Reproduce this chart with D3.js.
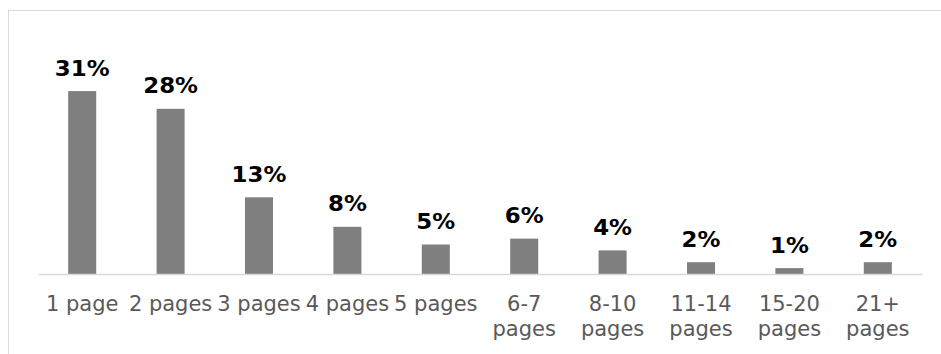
<!DOCTYPE html>
<html>
<head>
<meta charset="utf-8">
<script src="https://cdn.jsdelivr.net/npm/d3@7"></script>
<style>
  html, body { margin: 0; padding: 0; background: #fff; }
  svg { display: block; }
</style>
</head>
<body>
<svg id="chart" width="941" height="354"></svg>
<script>
// Share of documents by length
const categories = ["1 page", "2 pages", "3 pages", "4 pages", "5 pages",
                    "6-7 pages", "8-10 pages", "11-14 pages", "15-20 pages", "21+ pages"];
const shares = [31, 28, 13, 8, 5, 6, 4, 2, 1, 2];

const W = 941, H = 354;
const svg = d3.select("#chart");
const FONT = "Verdana, 'DejaVu Sans', sans-serif";

// chart frame
svg.append("rect")
  .attr("x", 8.5).attr("y", 10.5)
  .attr("width", W).attr("height", H)
  .attr("fill", "#fff").attr("stroke", "#d9d9d9").attr("stroke-width", 1);

const baseY = 274;
const x = d3.scaleBand()
  .domain(categories)
  .range([38, 922])
  .paddingInner(0.683)
  .paddingOuter(0.3415);

const y = d3.scaleLinear()
  .domain([0, 35])
  .range([baseY, baseY - 35 * 5.9]);

// bars
svg.append("g").selectAll("rect")
  .data(categories)
  .join("rect")
  .attr("x", d => x(d))
  .attr("y", (d, i) => y(shares[i]))
  .attr("width", x.bandwidth())
  .attr("height", (d, i) => y(0) - y(shares[i]))
  .attr("fill", "#7f7f7f");

// category axis
const axis = svg.append("g")
  .attr("transform", `translate(0,${baseY})`)
  .call(d3.axisBottom(x).tickSize(0).tickPadding(0));
axis.select(".domain").attr("stroke", "#d9d9d9").attr("stroke-width", 1.5);
axis.selectAll(".tick text").remove();

const firstLine = 37, lineGap = 25;
axis.selectAll(".tick").each(function (d) {
  const g = d3.select(this);
  const t = g.append("text")
    .attr("text-anchor", "middle")
    .attr("fill", "#595959")
    .style("font-family", FONT)
    .style("font-size", "21px")
    .attr("y", firstLine)
    .text(d);
  // wrap onto two lines when the label is wider than a category slot
  if (t.node().getComputedTextLength() > x.step()) {
    const parts = d.split(" ");
    t.text(null);
    parts.forEach((p, k) => {
      t.append("tspan").attr("x", 0).attr("y", firstLine + k * lineGap).text(p);
    });
  }
});

// value labels (bold, slightly widened)
svg.append("g").selectAll("text")
  .data(categories)
  .join("text")
  .attr("x", d => x(d) + x.bandwidth() / 2)
  .attr("y", (d, i) => y(shares[i]) - 15.5)
  .attr("text-anchor", "middle")
  .attr("fill", "#000")
  .style("font-family", FONT)
  .style("font-weight", "bold")
  .style("font-size", "21px")
  .text((d, i) => shares[i] + "%")
  .each(function () {
    const len = this.getComputedTextLength();
    d3.select(this)
      .attr("textLength", len * 1.09)
      .attr("lengthAdjust", "spacingAndGlyphs");
  });
</script>
</body>
</html>
